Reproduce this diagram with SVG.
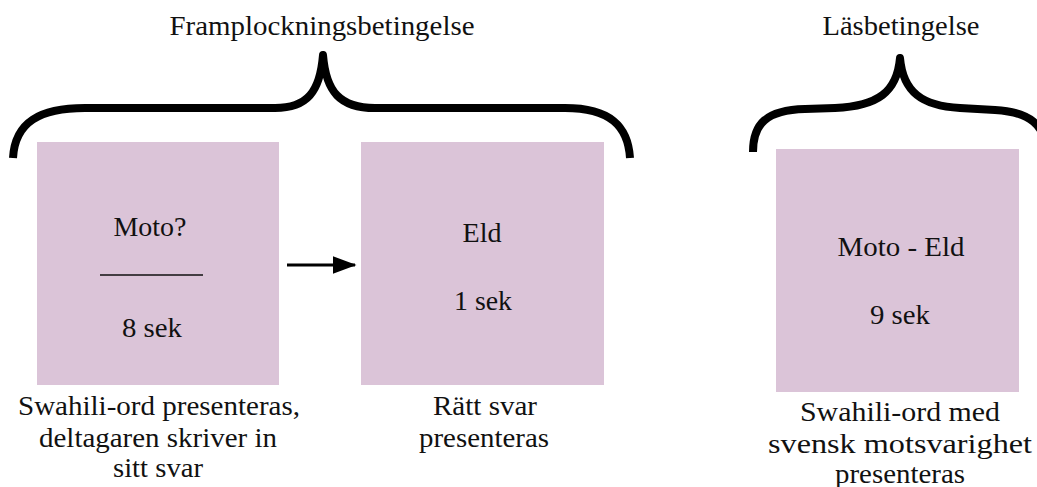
<svg xmlns="http://www.w3.org/2000/svg" width="1037" height="487" viewBox="0 0 1037 487">
<style>
.box{fill:#dbc4d8;}
.t{font-family:"Liberation Serif","Times New Roman",serif;font-size:28px;fill:#111;text-anchor:middle;}
.brace{fill:none;stroke:#000;stroke-width:8;stroke-linecap:butt;stroke-linejoin:round;}
.conn{stroke:#000;stroke-width:3;fill:none;}
</style>
<defs>
<marker id="ah" markerWidth="8" markerHeight="6" refX="7.5" refY="3" orient="auto" markerUnits="strokeWidth">
<path d="M0,0 L8,3 L0,6 z" fill="#000"/>
</marker>
</defs>
<rect width="1037" height="487" fill="#fff"/>
<g id="title-framplockning">
<text class="t" x="322" y="35" textLength="305" lengthAdjust="spacingAndGlyphs">Framplockningsbetingelse</text>
<path class="brace" d="M13,158 C15,122 40,108 85,108 L275,108 C307,108 320,92 323,55 C326,92 340,108 375,108 L565,108 C610,108 628,126 630,158"/>
</g>
<g id="title-las">
<text class="t" x="901" y="35" textLength="157" lengthAdjust="spacingAndGlyphs">Läsbetingelse</text>
<path class="brace" d="M753,152 C753,124 766,110 805,109 L835,108 C878,106 897,92 900,58 C903,92 922,106 960,108 L995,110 C1030,112 1045,125 1047,152"/>
</g>
<g id="node-moto">
<rect class="box" x="37" y="142" width="242" height="243"/>
<text class="t" x="150" y="236" textLength="73" lengthAdjust="spacingAndGlyphs">Moto?</text>
<line x1="100" y1="275" x2="203" y2="275" stroke="#111" stroke-width="1.5"/>
<text class="t" x="152" y="337" textLength="60" lengthAdjust="spacingAndGlyphs">8 sek</text>
<text class="t" x="159" y="415" textLength="282" lengthAdjust="spacingAndGlyphs">Swahili-ord presenteras,</text>
<text class="t" x="158" y="447" textLength="238" lengthAdjust="spacingAndGlyphs">deltagaren skriver in</text>
<text class="t" x="158" y="477" textLength="90" lengthAdjust="spacingAndGlyphs">sitt svar</text>
</g>
<g id="node-eld">
<rect class="box" x="361" y="142" width="243" height="243"/>
<text class="t" x="482" y="242" textLength="39" lengthAdjust="spacingAndGlyphs">Eld</text>
<text class="t" x="483" y="310" textLength="58" lengthAdjust="spacingAndGlyphs">1 sek</text>
<text class="t" x="485" y="415" textLength="104" lengthAdjust="spacingAndGlyphs">Rätt svar</text>
<text class="t" x="484" y="447" textLength="130" lengthAdjust="spacingAndGlyphs">presenteras</text>
</g>
<g id="node-moto-eld">
<rect class="box" x="776" y="149" width="243" height="243"/>
<text class="t" x="901" y="256" textLength="127" lengthAdjust="spacingAndGlyphs">Moto - Eld</text>
<text class="t" x="900" y="324" textLength="60" lengthAdjust="spacingAndGlyphs">9 sek</text>
<text class="t" x="900" y="421" textLength="200" lengthAdjust="spacingAndGlyphs">Swahili-ord med</text>
<text class="t" x="900" y="453" textLength="264" lengthAdjust="spacingAndGlyphs">svensk motsvarighet</text>
<text class="t" x="900" y="483" textLength="130" lengthAdjust="spacingAndGlyphs">presenteras</text>
</g>
<g id="connectors">
<line class="conn" x1="287" y1="265" x2="355" y2="265" marker-end="url(#ah)"/>
</g>
</svg>
